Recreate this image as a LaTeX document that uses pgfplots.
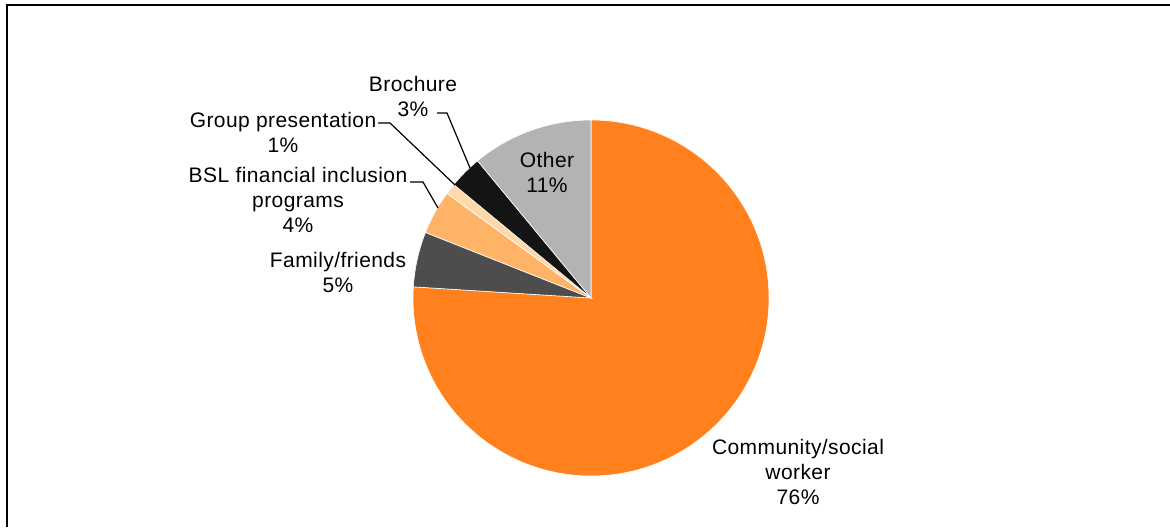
\documentclass[border=0pt]{standalone}
\usepackage{pgfplots}
\pgfplotsset{compat=1.18}
\usepackage{fontspec}
\setmainfont[LetterSpace=2]{Liberation Sans}
\definecolor{cOrange}{HTML}{FF801C}
\definecolor{cDark}{HTML}{4D4D4D}
\definecolor{cLight}{HTML}{FFB366}
\definecolor{cPeach}{HTML}{FFD9AA}
\definecolor{cBlack}{HTML}{141414}
\definecolor{cGrey}{HTML}{B3B3B3}
\begin{document}
\begin{tikzpicture}
% shares in percent
\def\vCommunity{76}
\def\vFamily{5}
\def\vBSL{4}
\def\vGroup{1}
\def\vBrochure{3}
\def\vOther{11}
\pgfmathsetmacro\aA{90}
\pgfmathsetmacro\aB{\aA-\vCommunity*3.6}
\pgfmathsetmacro\aC{\aB-\vFamily*3.6}
\pgfmathsetmacro\aD{\aC-\vBSL*3.6}
\pgfmathsetmacro\aE{\aD-\vGroup*3.6}
\pgfmathsetmacro\aF{\aE-\vBrochure*3.6}
\pgfmathsetmacro\aG{\aF-\vOther*3.6}
\def\R{89pt}
\newcommand\slice[3]{\fill[#3, draw=white, line width=0.3pt] (axis cs:591,298) -- ([shift={(#1:\R)}]axis cs:591,298) arc[start angle=#1, end angle=#2, radius=\R] -- cycle;}
\tikzset{lbl/.style={font=\fontsize{10.5}{12.5}\selectfont, align=center, inner sep=0pt}}
\begin{axis}[
  scale only axis, width=585pt, height=263.5pt,
  xmin=0, xmax=1170, ymin=0, ymax=527, y dir=reverse,
  hide axis, clip=false,
]
\slice{\aA}{\aB}{cOrange}
\slice{\aB}{\aC}{cDark}
\slice{\aC}{\aD}{cLight}
\slice{\aD}{\aE}{cPeach}
\slice{\aE}{\aF}{cBlack}
\slice{\aF}{\aG}{cGrey}
% leader lines
\draw[black, line width=0.6pt] (axis cs:437,113) -- (axis cs:447,113) -- (axis cs:470,168);
\draw[black, line width=0.6pt] (axis cs:378,123) -- (axis cs:390,123) -- (axis cs:455,185);
\draw[black, line width=0.6pt] (axis cs:410,182) -- (axis cs:423,182) -- (axis cs:438,208);
% labels
\node[lbl] at (axis cs:413,96) {Brochure\\3\%};
\node[lbl] at (axis cs:283,132) {Group presentation\\1\%};
\node[lbl] at (axis cs:298,200) {BSL financial inclusion\\programs\\4\%};
\node[lbl] at (axis cs:338,272) {Family/friends\\5\%};
\node[lbl] at (axis cs:547,172) {Other\\11\%};
\node[lbl] at (axis cs:798,472) {Community/social\\worker\\76\%};
% frame
\draw[black, line width=1pt] (axis cs:6.5,527) -- (axis cs:6.5,5.5) -- (axis cs:1170,5.5);
\end{axis}
\pgfresetboundingbox
\path (current axis.south west) rectangle (current axis.north east);
\end{tikzpicture}
\end{document}
